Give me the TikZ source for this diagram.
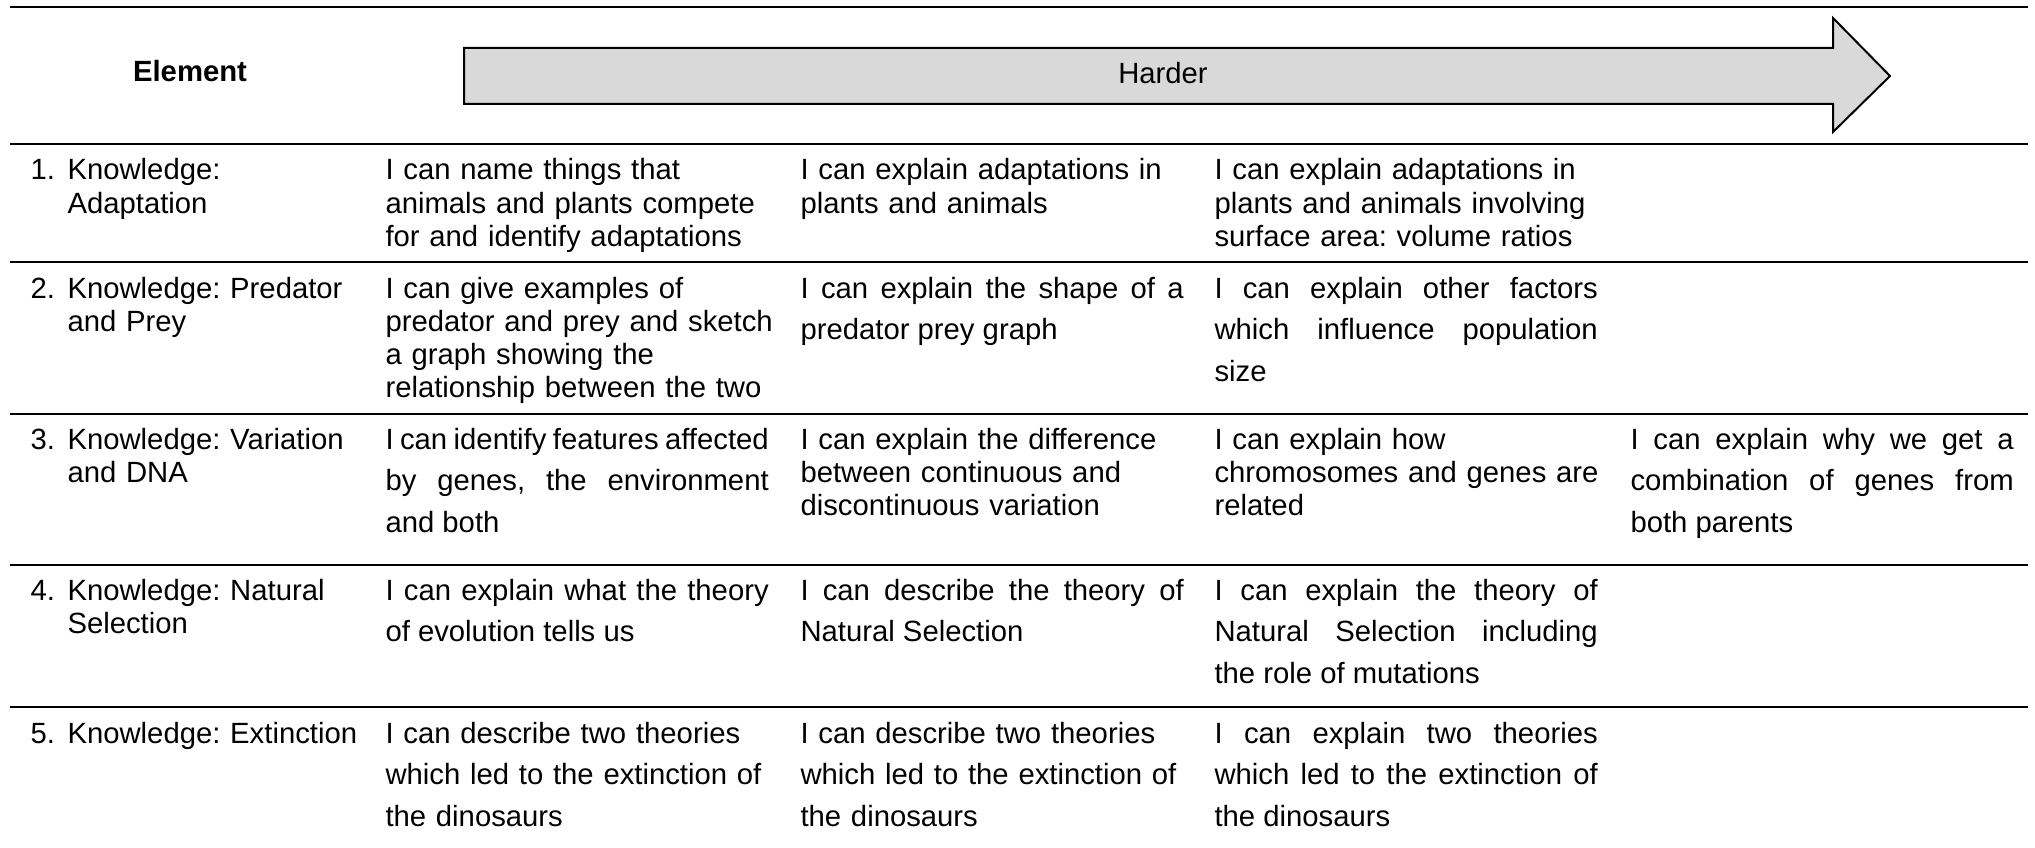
\documentclass[tikz,border=0pt]{standalone}
\usepackage{fontspec}
\setmainfont{Liberation Sans}
\usetikzlibrary{positioning}
\definecolor{arrowgray}{HTML}{D9D9D9}
\tolerance=10000
\hbadness=10000
\frenchspacing

\begin{document}
\begin{tikzpicture}[x=0.3758pt,y=-0.3758pt,
    rule/.style={line width=0.9pt, black},
    numlabel/.style={anchor=base west, inner sep=0pt, font=\fontsize{11}{12.5}\selectfont},
    elemcell/.style={numlabel, text width=118pt, align=left},
    textcell/.style={numlabel, text width=156pt, align=left},
    loosecell/.style={textcell, font=\fontsize{11}{15.7}\selectfont},
    justcell/.style={loosecell, text width=144pt, align=justify}]
    \useasboundingbox (0,0) rectangle (2035,848);

    % draw rules
    \foreach \y in {7,144,262,414,565,707}
        \draw[rule] (10,\y) -- (2028,\y);

    % draw arrow
    \draw[line width=0.75pt, fill=arrowgray] (464,48) -- (1833,48) -- (1833,18) -- (1890,76)
        -- (1833,132) -- (1833,104) -- (464,104) -- cycle;

    % header
    \node[anchor=base, inner sep=0pt, font=\fontsize{11}{12.5}\selectfont\bfseries] (element) at (190,82) {Element};
    \node[anchor=base, inner sep=0pt, font=\fontsize{11}{12.5}\selectfont] (harder) at (1163,84) {Harder};

    % row 1
    \node[numlabel] (r1n) at (30,180) {1.};
    \node[elemcell] (r1c1) at (67,180) {Knowledge:\\Adaptation};
    \node[textcell] (r1c2) at (385,180) {I can name things that\\animals and plants compete\\for and identify adaptations};
    \node[textcell] (r1c3) at (800,180) {I can explain adaptations in\\plants and animals};
    \node[textcell] (r1c4) at (1214,180) {I can explain adaptations in\\plants and animals involving\\surface area: volume ratios};

    % row 2
    \node[numlabel] (r2n) at (30,298) {2.};
    \node[elemcell] (r2c1) at (67,298) {Knowledge: Predator\\and Prey};
    \node[textcell] (r2c2) at (385,298) {I can give examples of\\predator and prey and sketch\\a graph showing the\\relationship between the two};
    \node[justcell] (r2c3) at (800,298) {I can explain the shape of a\linebreak predator prey graph};
    \node[justcell] (r2c4) at (1214,298) {I can explain other factors\linebreak which influence population\linebreak size};

    % row 3
    \node[numlabel] (r3n) at (30,449) {3.};
    \node[elemcell] (r3c1) at (67,449) {Knowledge: Variation\\and DNA};
    \node[justcell] (r3c2) at (385,449) {I can identify features affected\linebreak by genes, the environment\linebreak and both};
    \node[textcell] (r3c3) at (800,449) {I can explain the difference\\between continuous and\\discontinuous variation};
    \node[textcell] (r3c4) at (1214,449) {I can explain how\\chromosomes and genes are\\related};
    \node[justcell] (r3c5) at (1630,449) {I can explain why we get a\linebreak combination of genes from\linebreak both parents};

    % row 4
    \node[numlabel] (r4n) at (30,600) {4.};
    \node[elemcell] (r4c1) at (67,600) {Knowledge: Natural\\Selection};
    \node[justcell] (r4c2) at (385,600) {I can explain what the theory\linebreak of evolution tells us};
    \node[justcell] (r4c3) at (800,600) {I can describe the theory of\linebreak Natural Selection};
    \node[justcell] (r4c4) at (1214,600) {I can explain the theory of\linebreak Natural Selection including\linebreak the role of mutations};

    % row 5
    \node[numlabel] (r5n) at (30,743) {5.};
    \node[elemcell] (r5c1) at (67,743) {Knowledge: Extinction};
    \node[loosecell] (r5c2) at (385,743) {I can describe two theories\\which led to the extinction of\\the dinosaurs};
    \node[loosecell] (r5c3) at (800,743) {I can describe two theories\\which led to the extinction of\\the dinosaurs};
    \node[justcell] (r5c4) at (1214,743) {I can explain two theories\linebreak which led to the extinction of\linebreak the dinosaurs};
\end{tikzpicture}
\end{document}
